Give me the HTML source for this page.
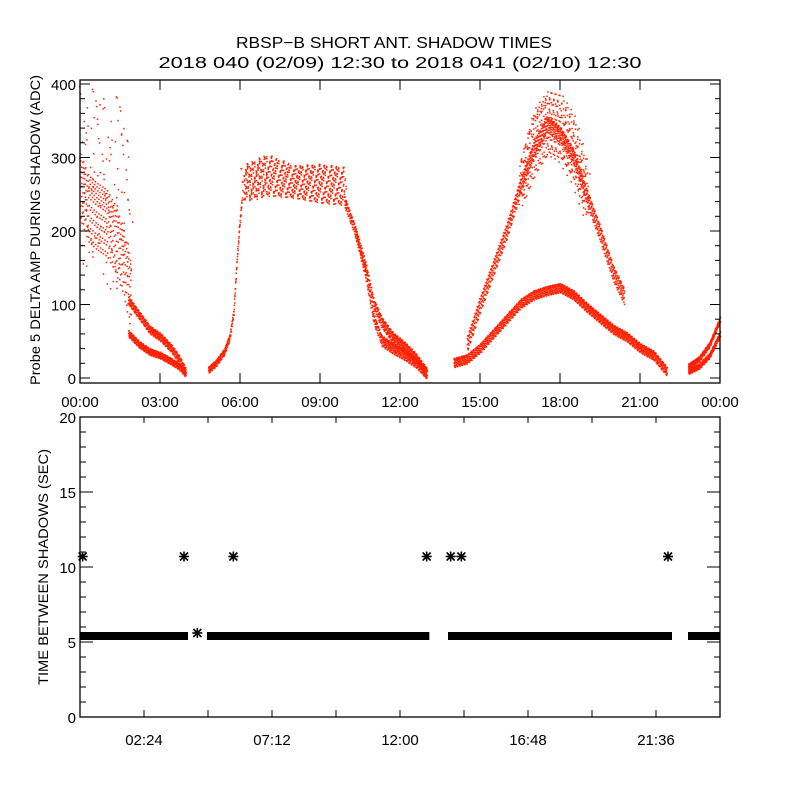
<!DOCTYPE html>
<html><head><meta charset="utf-8"><style>
html,body{margin:0;padding:0;background:#fff;}
svg{display:block;font-family:"Liberation Sans",sans-serif;}
</style></head><body>
<svg id="chart" width="800" height="800" viewBox="0 0 800 800">
<rect width="800" height="800" fill="#fff"/>
<text x="394" y="48" font-size="16" text-anchor="middle" textLength="316" lengthAdjust="spacingAndGlyphs">RBSP−B SHORT ANT. SHADOW TIMES</text>
<text x="400" y="68" font-size="16" text-anchor="middle" textLength="483" lengthAdjust="spacingAndGlyphs">2018 040 (02/09) 12:30 to 2018 041 (02/10) 12:30</text>
<g id="gtop"></g>
<g id="gbot"></g>
<text transform="translate(40,230) rotate(-90)" font-size="14" text-anchor="middle" textLength="310" lengthAdjust="spacingAndGlyphs">Probe 5 DELTA AMP DURING SHADOW (ADC)</text>
<text transform="translate(48,567) rotate(-90)" font-size="14" text-anchor="middle" textLength="236" lengthAdjust="spacingAndGlyphs">TIME BETWEEN SHADOWS (SEC)</text>
</svg>
<script>
// ---- top panel data (hours, ADC) ----
const traceUpperEarlyH = [0, 0.3, 0.6, 1.0, 1.3, 1.6, 1.9];
const traceUpperEarlyV = [260, 230, 220, 210, 190, 160, 110];
const earlyH = [0, 0.5, 1.0, 1.5, 1.9];
const earlyTop = [400, 400, 380, 400, 300];
const earlyBot = [150, 150, 120, 100, 150];
const traceA1H = [1.8, 2.2, 2.6, 3.0, 3.4, 3.7, 3.95];
const traceA1V = [105, 85, 65, 55, 40, 25, 8];
const traceA2H = [1.8, 2.2, 2.6, 3.0, 3.4, 3.7, 3.95];
const traceA2V = [60, 45, 35, 30, 22, 15, 5];
const traceRiseH = [4.8, 5.1, 5.4, 5.6, 5.75, 5.85, 5.95, 6.05];
const traceRiseV = [10, 20, 35, 55, 90, 150, 200, 240];
const plateauH = [6.1, 7.0, 8.0, 9.0, 9.9];
const plateauTop = [290, 305, 290, 292, 288];
const plateauBot = [240, 248, 245, 238, 235];
const traceFall1H = [9.9, 10.3, 10.7, 11.0, 11.3, 11.7, 12.2, 12.6, 13.0];
const traceFall1V = [240, 200, 150, 100, 75, 55, 40, 25, 5];
const traceFall2H = [10.3, 10.7, 11.0, 11.3, 11.7, 12.2, 12.6, 13.0];
const traceFall2V = [200, 140, 80, 50, 40, 30, 20, 5];
const traceLowH = [14.0, 14.5, 15.0, 15.5, 16.0, 16.5, 17.0, 17.5, 18.0, 18.5, 19.0, 19.5, 20.0, 20.5, 21.0, 21.5, 22.0];
const traceLowV = [20, 25, 40, 60, 80, 100, 112, 118, 122, 112, 95, 80, 65, 55, 40, 30, 8];
const traceHighH = [14.5, 15.0, 15.5, 16.0, 16.5, 17.0, 17.5, 18.0, 18.5, 19.0, 19.5, 20.0, 20.4];
const traceHighV = [45, 100, 150, 200, 260, 310, 345, 330, 300, 245, 195, 140, 110];
const peakH = [16.5, 17.0, 17.5, 18.0, 18.5, 19.0];
const peakTop = [300, 370, 395, 390, 360, 290];
const peakBot = [230, 270, 300, 290, 260, 210];
const traceEnd1H = [22.8, 23.2, 23.6, 24.0];
const traceEnd1V = [15, 25, 45, 80];
const traceEnd2H = [22.8, 23.2, 23.6, 24.0];
const traceEnd2V = [8, 15, 30, 60];
const yTicksTop = [0, 100, 200, 300, 400];
const xTickLabelsTop = ["00:00","03:00","06:00","09:00","12:00","15:00","18:00","21:00","00:00"];
// ---- bottom panel data ----
const bandStartH = [0, 4.76, 13.8, 22.8];
const bandEndH = [4.05, 13.1, 22.2, 24];
const bandValue = [5.4, 5.4, 5.4, 5.4];
const outlierH = [0.1, 3.9, 5.75, 13.0, 13.9, 14.3, 22.05, 4.4];
const outlierV = [10.7, 10.7, 10.7, 10.7, 10.7, 10.7, 10.7, 5.6];
const yTicksBot = [0, 5, 10, 15, 20];
const xTickLabelsBot = ["02:24","07:12","12:00","16:48","21:36"];

const NS = "http://www.w3.org/2000/svg";
const gTop = document.getElementById('gtop'), gBot = document.getElementById('gbot');
const X0 = 80, X1 = 720;
const xs = h => X0 + h / 24 * (X1 - X0);
const yTop = v => 378 - v * 0.735;
const yBot = v => 717 - v * 15;
function mk(tag, attrs, parent) { const e = document.createElementNS(NS, tag); for (const k in attrs) e.setAttribute(k, attrs[k]); parent.appendChild(e); return e; }
const jit = [0, 0.7, -0.5, 0.9, -0.8, 0.3, -0.2, 0.6, -0.9, 0.1, 0.5, -0.6, 0.8, -0.3, 0.4];

function interp(H, V, h) { for (let i = 0; i < H.length - 1; i++) { if (h >= H[i] && h <= H[i+1]) { const t = (h - H[i]) / (H[i+1] - H[i]); return V[i] + t * (V[i+1] - V[i]); } } return null; }
function trace(H, V, spread, name) {
  const g = mk('g', {}, gTop);
  
  
  let k = 0;
  for (let h = H[0]; h <= H[H.length - 1]; h += 0.012) {
    const v = interp(H, V, h); if (v === null) continue;
    for (let j = 0; j < 2; j++) {
      const vv = v + jit[(k++) % jit.length] * spread;
      mk('rect', { x: xs(h).toFixed(1), y: (yTop(vv) - 1).toFixed(1), width: 1.5, height: 1.5, fill: '#ff2000' }, g);
    }
  }
}
function band(H, T, B, name, dens, step) {
  const g = mk('g', {}, gTop);
  
  
  let k = 0;
  for (let h = H[0]; h <= H[H.length - 1]; h += step) {
    const t = interp(H, T, h), b = interp(H, B, h); if (t === null) continue;
    for (let j = 0; j < dens; j++) {
      const f = (j + 0.5 + jit[(k++) % jit.length] * 0.5) / dens;
      const vv = b + f * (t - b);
      const dx = jit[(k * 7) % jit.length] * 3;
      mk('rect', { x: (xs(h) + dx).toFixed(1), y: yTop(vv).toFixed(1), width: 1.5, height: 1.5, fill: '#ff2000' }, g);
    }
  }
}
band(earlyH, earlyTop, earlyBot, 'series-early-sparse', 4, 0.06);
trace(traceUpperEarlyH, traceUpperEarlyV, 50, 'series-early-scatter');
trace(traceA1H, traceA1V, 6, 'series-upper-decay-1');
trace(traceA2H, traceA2V, 5, 'series-lower-decay-1');
trace(traceRiseH, traceRiseV, 5, 'series-rise-1');
band(plateauH, plateauTop, plateauBot, 'series-plateau', 7, 0.03);
trace(traceFall1H, traceFall1V, 8, 'series-upper-decay-2');
trace(traceFall2H, traceFall2V, 8, 'series-lower-decay-2');
trace(traceLowH, traceLowV, 7, 'series-lower-arch');
trace(traceHighH, traceHighV, 12, 'series-upper-arch');
band(peakH, peakTop, peakBot, 'series-peak-scatter', 6, 0.03);
trace(traceEnd1H, traceEnd1V, 4, 'series-end-upper');
trace(traceEnd2H, traceEnd2V, 4, 'series-end-lower');

// top axes
let f = mk('rect', { x: X0, y: 80, width: X1 - X0, height: 303, fill: 'none', stroke: '#000', 'stroke-width': 1.3 }, gTop);


for (let v = 0; v <= 400; v += 20) {
  const major = v % 100 === 0, len = major ? 10 : 5;
  mk('line', { x1: X0, x2: X0 + len, y1: yTop(v), y2: yTop(v), stroke: '#000' }, gTop);
  mk('line', { x1: X1, x2: X1 - len, y1: yTop(v), y2: yTop(v), stroke: '#000' }, gTop);
}
yTicksTop.forEach(v => {
  const t = mk('text', { x: 76, y: yTop(v) + 6, 'font-size': 15, 'text-anchor': 'end' }, gTop);
  t.textContent = v;
  
  
});
xTickLabelsTop.forEach((s, i) => {
  const x = xs(i * 3);
  mk('line', { x1: x, x2: x, y1: 383, y2: 373, stroke: '#000' }, gTop);
  mk('line', { x1: x, x2: x, y1: 80, y2: 90, stroke: '#000' }, gTop);
  const t = mk('text', { x: x, y: 407, 'font-size': 15, 'text-anchor': 'middle' }, gTop);
  t.textContent = s;
  
  
});

// bottom data
bandStartH.forEach((s, i) => {
  const r = mk('rect', { x: xs(s), y: yBot(bandValue[i]) - 4, width: xs(bandEndH[i]) - xs(s), height: 8, fill: '#000' }, gBot);
  
  
});
outlierH.forEach((h, i) => {
  const cx = xs(h), cy = yBot(outlierV[i]);
  const g = mk('g', { stroke: '#000', 'stroke-width': 1.6 }, gBot);
  
  
  mk('line', { x1: cx - 5, x2: cx + 5, y1: cy, y2: cy }, g);
  mk('line', { x1: cx, x2: cx, y1: cy - 5, y2: cy + 5 }, g);
  mk('line', { x1: cx - 4, x2: cx + 4, y1: cy - 4, y2: cy + 4 }, g);
  mk('line', { x1: cx - 4, x2: cx + 4, y1: cy + 4, y2: cy - 4 }, g);
});
f = mk('rect', { x: X0, y: 417, width: X1 - X0, height: 300, fill: 'none', stroke: '#000', 'stroke-width': 1.3 }, gBot);


for (let v = 0; v <= 20; v += 1) {
  const major = v % 5 === 0, len = major ? 13 : 6;
  mk('line', { x1: X0, x2: X0 + len, y1: yBot(v), y2: yBot(v), stroke: '#000' }, gBot);
  mk('line', { x1: X1, x2: X1 - len, y1: yBot(v), y2: yBot(v), stroke: '#000' }, gBot);
}
yTicksBot.forEach(v => {
  const t = mk('text', { x: 76, y: yBot(v) + 6, 'font-size': 15, 'text-anchor': 'end' }, gBot);
  t.textContent = v;
  
  
});
for (let i = 1; i < 10; i++) {
  const x = xs(i * 2.4);
  mk('line', { x1: x, x2: x, y1: 717, y2: 710, stroke: '#000' }, gBot);
  mk('line', { x1: x, x2: x, y1: 417, y2: 423, stroke: '#000' }, gBot);
}
xTickLabelsBot.forEach((s, i) => {
  const x = xs((2 * i + 1) * 2.4);
  const t = mk('text', { x: x, y: 745, 'font-size': 15, 'text-anchor': 'middle' }, gBot);
  t.textContent = s;
  
  
});
</script>
</body></html>
